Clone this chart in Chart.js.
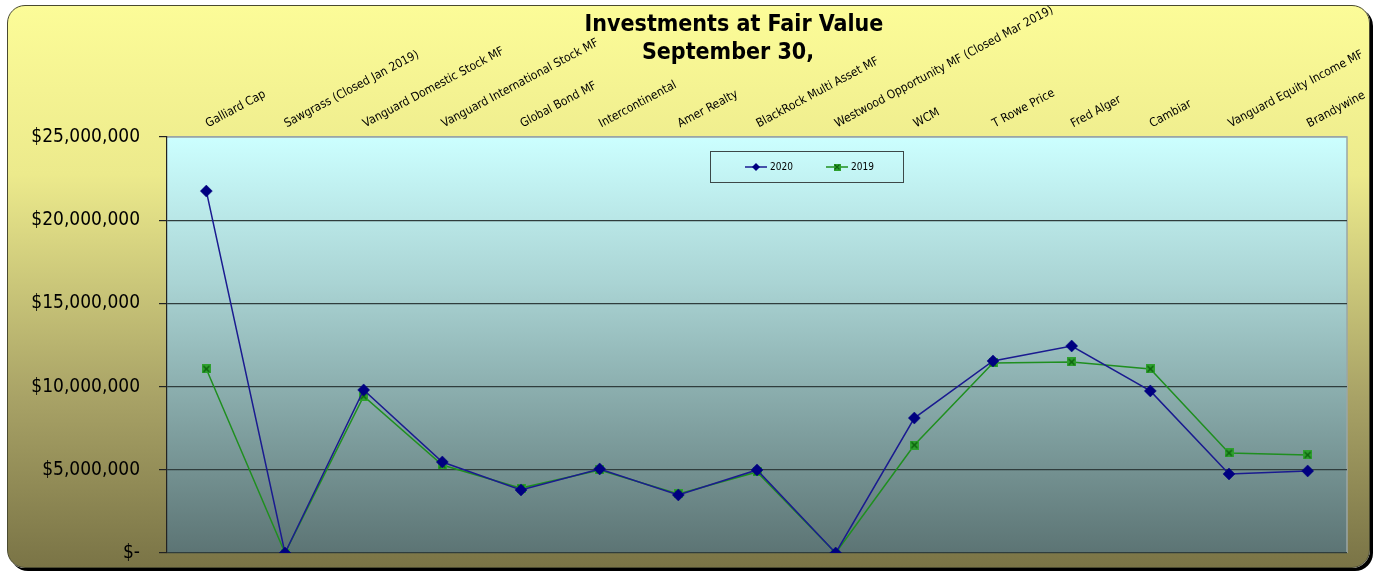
<!DOCTYPE html>
<html>
<head>
<meta charset="utf-8">
<script src="https://cdn.jsdelivr.net/npm/chart.js@4/dist/chart.umd.min.js"></script>
<style>
    body { margin: 0; background: #ffffff; }
    #wrap { position: relative; width: 1375px; height: 571px; }
    #panel {
        position: absolute; left: 7px; top: 5px; width: 1361px; height: 561px;
        border: 1px solid #4a4a30; border-radius: 18px;
        background: linear-gradient(to bottom, #fcfc98 0%, #ecea8c 30%, #a8a266 70%, #7a7446 100%);
        box-shadow: 3px 3px 0 #000000;
    }
    #chart { position: absolute; left: 0; top: 0; }
</style>
</head>
<body>
<div id="wrap">
    <div id="panel"></div>
    <canvas id="chart" width="1375" height="571"></canvas>
</div>
<script>
// Data
const categories = [
    'Galliard Cap', 'Sawgrass (Closed Jan 2019)', 'Vanguard Domestic Stock MF',
    'Vanguard International Stock MF', 'Global Bond MF', 'Intercontinental',
    'Amer Realty', 'BlackRock Multi Asset MF', 'Westwood Opportunity MF (Closed Mar 2019)',
    'WCM', 'T Rowe Price', 'Fred Alger', 'Cambiar', 'Vanguard Equity Income MF', 'Brandywine'
];
const values2020 = [21750000, 0, 9800000, 5470000, 3790000, 5050000, 3490000, 4990000, 0,
    8110000, 11540000, 12440000, 9740000, 4750000, 4930000];
const values2019 = [11060000, 0, 9430000, 5290000, 3900000, 4990000, 3550000, 4870000, 0,
    6490000, 11420000, 11480000, 11060000, 6010000, 5890000];
const yTicks = [0, 5000000, 10000000, 15000000, 20000000, 25000000];
const titleLines = ['Investments at Fair Value', 'September 30,'];
const seriesNames = ['2020', '2019'];

const FONT = '"DejaVu Sans Condensed", "Liberation Sans", sans-serif';

// Square-with-x marker for 2019
function makeSquareX() {
    const c = document.createElement('canvas');
    c.width = 9; c.height = 9;
    const g = c.getContext('2d');
    g.fillStyle = '#2ea02e';
    g.fillRect(0, 0, 9, 9);
    g.strokeStyle = '#0b5e0b';
    g.lineWidth = 1.3;
    g.beginPath();
    g.moveTo(1.5, 1.5); g.lineTo(7.5, 7.5);
    g.moveTo(7.5, 1.5); g.lineTo(1.5, 7.5);
    g.stroke();
    return c;
}
const squareX = makeSquareX();

// Plot background, title and legend box
const decor = {
    id: 'decor',
    beforeDraw(chart) {
        const { ctx, chartArea: a } = chart;
        const grad = ctx.createLinearGradient(0, a.top, 0, a.bottom);
        grad.addColorStop(0, '#ccffff');
        grad.addColorStop(0.35, '#aad4d4');
        grad.addColorStop(1, '#5c7474');
        ctx.save();
        ctx.fillStyle = grad;
        ctx.fillRect(a.left, a.top, a.right - a.left, a.bottom - a.top);
        ctx.strokeStyle = '#9aa6a6';
        ctx.lineWidth = 1.5;
        ctx.beginPath();
        ctx.moveTo(a.left, a.top);
        ctx.lineTo(a.right, a.top);
        ctx.lineTo(a.right, a.bottom);
        ctx.stroke();
        ctx.restore();
    },
    afterDraw(chart) {
        const { ctx } = chart;
        ctx.save();
        // title
        ctx.fillStyle = '#000000';
        ctx.font = 'bold 23px ' + FONT;
        ctx.textAlign = 'center';
        ctx.textBaseline = 'alphabetic';
        ctx.fillText(titleLines[0], 734, 31);
        ctx.fillText(titleLines[1], 728, 59);

        // legend
        ctx.strokeStyle = '#3c4848';
        ctx.lineWidth = 1;
        ctx.strokeRect(710.5, 151.5, 193, 31);
        ctx.font = '10px ' + FONT;
        ctx.textAlign = 'left';
        ctx.textBaseline = 'middle';
        const items = [{ x: 745, ds: chart.data.datasets[0] }, { x: 826, ds: chart.data.datasets[1] }];
        items.forEach(it => {
            const y = 167;
            ctx.strokeStyle = it.ds.borderColor;
            ctx.lineWidth = 1.5;
            ctx.beginPath();
            ctx.moveTo(it.x, y);
            ctx.lineTo(it.x + 22, y);
            ctx.stroke();
            if (it.ds.pointStyle === 'rectRot') {
                ctx.fillStyle = it.ds.pointBackgroundColor;
                ctx.beginPath();
                ctx.moveTo(it.x + 7, y); ctx.lineTo(it.x + 11, y - 4);
                ctx.lineTo(it.x + 15, y); ctx.lineTo(it.x + 11, y + 4);
                ctx.closePath();
                ctx.fill();
            } else {
                ctx.drawImage(squareX, it.x + 7.5, y - 3.5, 7, 7);
            }
            ctx.fillStyle = '#000000';
            ctx.fillText(it.ds.label, it.x + 25, y);
        });
        ctx.restore();
    }
};

const ctx = document.getElementById('chart').getContext('2d');
const chart = new Chart(ctx, {
    type: 'line',
    data: {
        labels: categories,
        datasets: [{
            label: seriesNames[0],
            data: values2020,
            borderColor: '#1a1a90',
            backgroundColor: '#000080',
            borderWidth: 1.5,
            pointStyle: 'rectRot',
            pointRadius: 6,
            pointBackgroundColor: '#000080',
            pointBorderColor: '#000080',
            pointBorderWidth: 0.5,
            tension: 0
        }, {
            label: seriesNames[1],
            data: values2019,
            borderColor: '#1f8f1f',
            backgroundColor: '#1f8f1f',
            borderWidth: 1.5,
            pointStyle: squareX,
            pointRadius: 5,
            tension: 0
        }]
    },
    options: {
        responsive: false,
        animation: false,
        layout: {
            padding: { left: 0, right: 28, top: 0, bottom: 18 }
        },
        plugins: {
            legend: { display: false },
            title: { display: false },
            tooltip: { enabled: false }
        },
        scales: {
            x: {
                position: 'top',
                offset: true,
                grid: { display: false, drawTicks: false },
                border: { display: false },
                ticks: {
                    autoSkip: false,
                    minRotation: 28,
                    maxRotation: 28,
                    padding: 6,
                    labelOffset: 7,
                    color: '#000000',
                    font: { family: FONT, size: 12 }
                },
                afterFit(scale) {
                    scale.height = 137;
                    scale.paddingTop = 0;
                    scale.paddingBottom = 0;
                }
            },
            y: {
                min: 0,
                max: 25000000,
                afterBuildTicks(scale) { scale.ticks = yTicks.map(v => ({ value: v })); },
                grid: {
                    color: (c) => c.index === yTicks.length - 1 ? '#9aa6a6' : '#2f3d3d',
                    lineWidth: 1.2,
                    tickLength: 8,
                    tickColor: '#222222'
                },
                border: { display: true, color: '#222222', width: 1.2 },
                ticks: {
                    padding: 19,
                    color: '#000000',
                    font: { family: FONT, size: 19 },
                    callback: (v) => v === 0 ? '$-' : '$' + v.toLocaleString('en-US')
                },
                afterFit(scale) {
                    scale.width = 167;
                    scale.paddingTop = 0;
                    scale.paddingBottom = 0;
                }
            }
        }
    },
    plugins: [decor]
});
</script>
</body>
</html>
